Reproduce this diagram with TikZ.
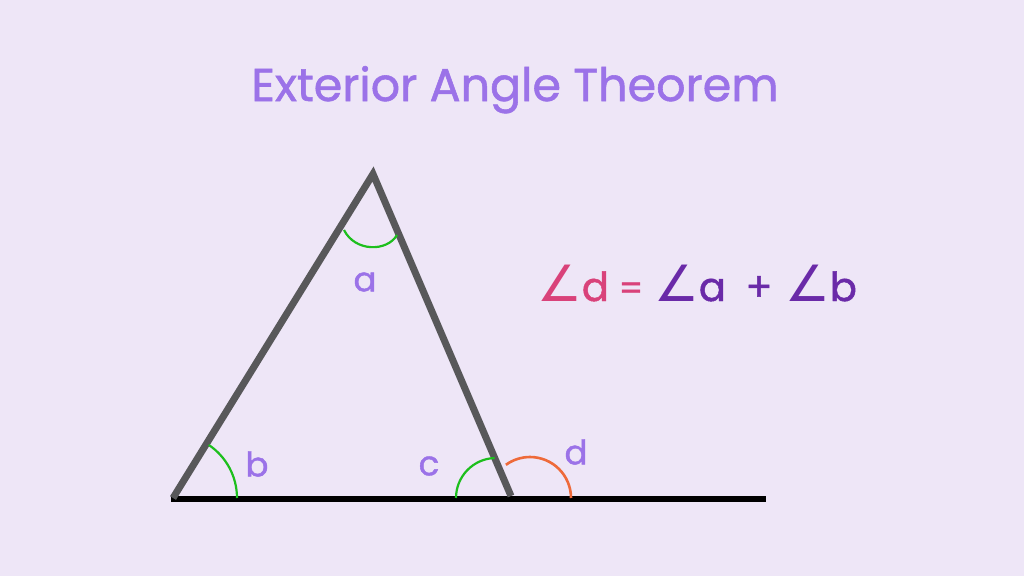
\documentclass[tikz,border=0pt]{standalone}
\usepackage{fontspec}
\setmainfont{Poppins}[FakeBold=1.2]
\newfontfamily\symfont{DejaVu Sans}
\definecolor{bgc}{HTML}{EEE6F7}
\definecolor{titlec}{HTML}{9B72E8}
\definecolor{pinkc}{HTML}{D9427A}
\definecolor{purpc}{HTML}{6A2AA8}
\definecolor{sidec}{HTML}{58585A}
\definecolor{greenc}{HTML}{1DBF1D}
\definecolor{orangec}{HTML}{EE6A3A}
\newcommand{\angsym}{{\symfont\fontsize{50}{50}\selectfont ∠}}
\tikzset{
  side/.style={draw=sidec,line width=7pt},
  baseln/.style={draw=black,line width=6pt},
  angarc/.style={draw=greenc,line width=2.2pt},
  extarc/.style={draw=orangec,line width=2.6pt},
  lbl/.style={text=titlec,font=\fontsize{34}{34}\selectfont,inner sep=0pt},
  eq/.style={font=\fontsize{40}{40}\selectfont,inner sep=0pt,anchor=base},
}
\begin{document}
\begin{tikzpicture}[x=1pt,y=-1pt]
\fill[bgc] (0,0) rectangle (1024,576);
\useasboundingbox (0,0) rectangle (1024,576);
\node[text=titlec,font=\fontsize{46}{46}\selectfont,inner sep=0pt,anchor=base] (title) at (515,101) {Exterior Angle Theorem};
\coordinate (A) at (373,174);
\coordinate (B) at (173,498);
\coordinate (C) at (511,496);
\coordinate (E) at (766,499);
\coordinate (S) at (171,499);
\draw[baseln] (S) -- (E);
\draw[side,line cap=butt] (B) -- (A) -- (C);
% angle a
\draw[angarc] (344,230) .. controls (355,252) and (387,252) .. (397,235);
% angle b
\draw[angarc] (B) ++(0:64) arc[start angle=0,end angle=-56,radius=64];
% angle c
\draw[angarc] (496,498) ++(180:40) arc[start angle=180,end angle=268,radius=40];
% angle d
\draw[extarc] (530,498) ++(0:41) arc[start angle=0,end angle=-126,radius=41];
\node[lbl] (la) at (365,282) {a};
\node[lbl] (lb) at (257,464) {b};
\node[lbl] (lc) at (429,466) {c};
\node[lbl] (ld) at (576,452) {d};
\node[eq,text=pinkc] (eqd) at (573,301) {\angsym d};
\node[eq,text=pinkc,font=\fontsize{34}{34}\selectfont] (eqeq) at (631,300) {=};
\node[eq,text=purpc] (eqa) at (690,301) {\angsym a};
\node[eq,text=purpc] (eqp) at (759,301) {+};
\node[eq,text=purpc] (eqb) at (821,301) {\angsym b};
\end{tikzpicture}
\end{document}
